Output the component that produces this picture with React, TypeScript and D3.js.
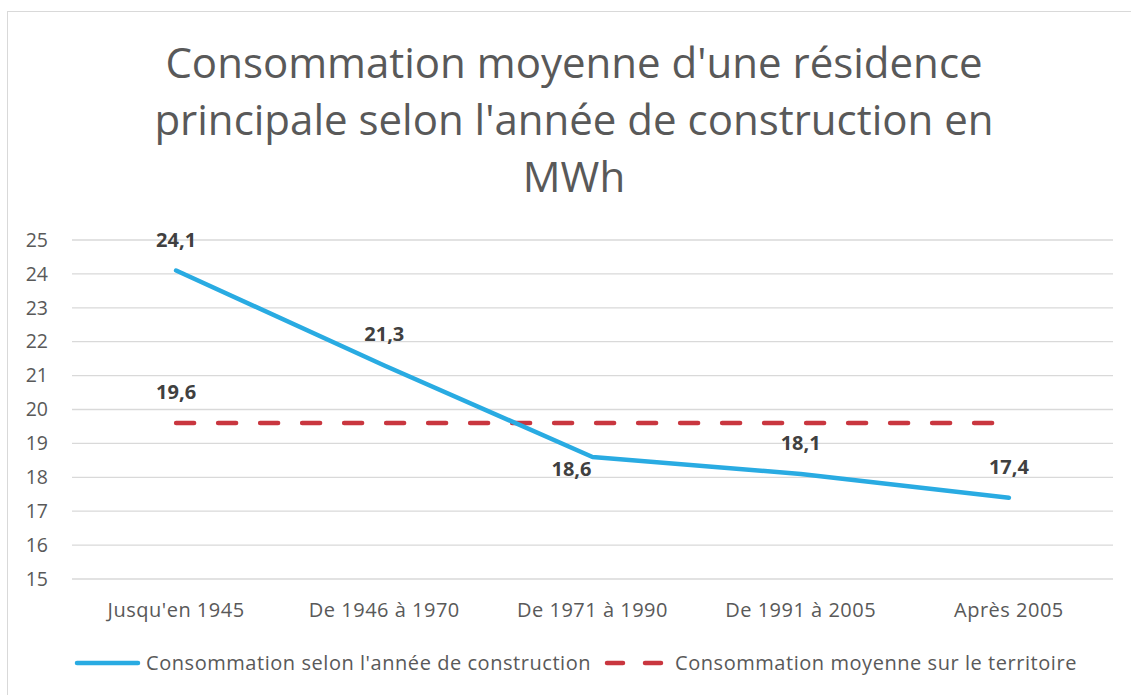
import React, { useRef, useEffect } from 'react';
import * as d3 from 'd3';

// Data
const categories = ['Jusqu\'en 1945', 'De 1946 à 1970', 'De 1971 à 1990', 'De 1991 à 2005', 'Après 2005'];
const consoParAnnee = [24.1, 21.3, 18.6, 18.1, 17.4];
const consoMoyenne = [19.6, 19.6, 19.6, 19.6, 19.6];
const yTicks = [15, 16, 17, 18, 19, 20, 21, 22, 23, 24, 25];
const titleLines = ['Consommation moyenne d\'une résidence', 'principale selon l\'année de construction en', 'MWh'];
const seriesNames = ['Consommation selon l\'année de construction', 'Consommation moyenne sur le territoire'];

const W = 1131;
const H = 695;
const FONT = '"Open Sans", Lato, sans-serif';

const App = () => {
    const ref = useRef<SVGSVGElement | null>(null);

    useEffect(() => {
        if (!ref.current) return;
        const svg = d3.select(ref.current);
        svg.selectAll('*').remove();

        const margin = { top: 240, right: 18, bottom: 116, left: 72 };
        const width = W - margin.left - margin.right;
        const height = H - margin.top - margin.bottom;

        // outer frame
        svg.append('rect')
            .attr('x', 7.5).attr('y', 11.5)
            .attr('width', W + 20).attr('height', H + 20)
            .attr('fill', '#fff')
            .attr('stroke', '#d9d9d9');

        // title
        const title = svg.append('text')
            .attr('text-anchor', 'middle')
            .attr('font-family', FONT)
            .attr('font-size', 42)
            .attr('fill', '#595959');
        titleLines.forEach((t, i) => {
            title.append('tspan')
                .attr('x', 574)
                .attr('y', 78 + i * 57)
                .text(t);
        });

        const g = svg.append('g').attr('transform', `translate(${margin.left},${margin.top})`);

        const x = d3.scaleBand().domain(categories).range([0, width]);
        const y = d3.scaleLinear().domain([15, 25]).range([height, 0]);
        const cx = (c: string) => (x(c) as number) + x.bandwidth() / 2;

        // gridlines
        g.append('g')
            .selectAll('line')
            .data(yTicks)
            .join('line')
            .attr('x1', 0).attr('x2', width)
            .attr('y1', d => y(d)).attr('y2', d => y(d))
            .attr('stroke', '#d9d9d9')
            .attr('stroke-width', 1.3);

        // y axis labels
        const yAxis = g.append('g')
            .call(d3.axisLeft(y).tickValues(yTicks).tickSize(0).tickPadding(24));
        yAxis.select('.domain').remove();
        yAxis.selectAll('text')
            .attr('font-family', FONT)
            .attr('font-size', 19.5)
            .attr('fill', '#595959');

        // x axis labels
        const xAxis = g.append('g')
            .attr('transform', `translate(0,${height})`)
            .call(d3.axisBottom(x).tickSize(0).tickPadding(24));
        xAxis.select('.domain').remove();
        xAxis.selectAll('text')
            .attr('font-family', FONT)
            .attr('font-size', 20)
            .attr('letter-spacing', 0.5)
            .attr('fill', '#595959');

        // both series share one line generator
        const line = d3.line<number>()
            .x((_, i) => cx(categories[i]))
            .y(d => y(d));

        // average line (dashed)
        g.append('path')
            .datum(consoMoyenne)
            .attr('fill', 'none')
            .attr('stroke', '#c9363f')
            .attr('stroke-width', 4.5)
            .attr('stroke-linecap', 'round')
            .attr('stroke-dasharray', '18 24')
            .attr('d', line);

        // main line
        g.append('path')
            .datum(consoParAnnee)
            .attr('fill', 'none')
            .attr('stroke', '#29abe2')
            .attr('stroke-width', 4.5)
            .attr('stroke-linecap', 'round')
            .attr('stroke-linejoin', 'round')
            .attr('d', line);

        const fmt = (v: number) => v.toFixed(1).replace('.', ',');

        // data labels for main series (3rd one sits below-left in the original)
        g.selectAll('.lbl')
            .data(consoParAnnee)
            .join('text')
            .attr('class', 'lbl')
            .attr('x', (_, i) => cx(categories[i]) + (i === 2 ? -21 : 0))
            .attr('y', (d, i) => y(d) + (i === 2 ? 12 : -31))
            .attr('dy', '0.35em')
            .attr('text-anchor', 'middle')
            .attr('font-family', FONT)
            .attr('font-weight', 'bold')
            .attr('font-size', 20)
            .attr('fill', '#404040')
            .text(d => fmt(d));

        // single label for average series
        g.append('text')
            .attr('x', cx(categories[0]))
            .attr('y', y(consoMoyenne[0]) - 31)
            .attr('dy', '0.35em')
            .attr('text-anchor', 'middle')
            .attr('font-family', FONT)
            .attr('font-weight', 'bold')
            .attr('font-size', 20)
            .attr('fill', '#404040')
            .text(fmt(consoMoyenne[0]));

        // legend
        const leg = svg.append('g').attr('transform', 'translate(0,663)');
        leg.append('line')
            .attr('x1', 77).attr('x2', 138)
            .attr('stroke', '#29abe2')
            .attr('stroke-width', 4.5)
            .attr('stroke-linecap', 'round');
        leg.append('text')
            .attr('x', 146)
            .attr('dy', '0.35em')
            .attr('font-family', FONT)
            .attr('font-size', 20)
            .attr('letter-spacing', 0.55)
            .attr('fill', '#595959')
            .text(seriesNames[0]);
        leg.append('line')
            .attr('x1', 607).attr('x2', 662)
            .attr('stroke', '#c9363f')
            .attr('stroke-width', 4.5)
            .attr('stroke-linecap', 'round')
            .attr('stroke-dasharray', '16 22');
        leg.append('text')
            .attr('x', 675)
            .attr('dy', '0.35em')
            .attr('font-family', FONT)
            .attr('font-size', 20)
            .attr('letter-spacing', 0.55)
            .attr('fill', '#595959')
            .text(seriesNames[1]);
    }, []);

    return (
        <svg
            ref={ref}
            width={W}
            height={H}
            style={{ position: 'absolute', left: 0, top: 0, background: '#fff' }}
        />
    );
};

export default App;
